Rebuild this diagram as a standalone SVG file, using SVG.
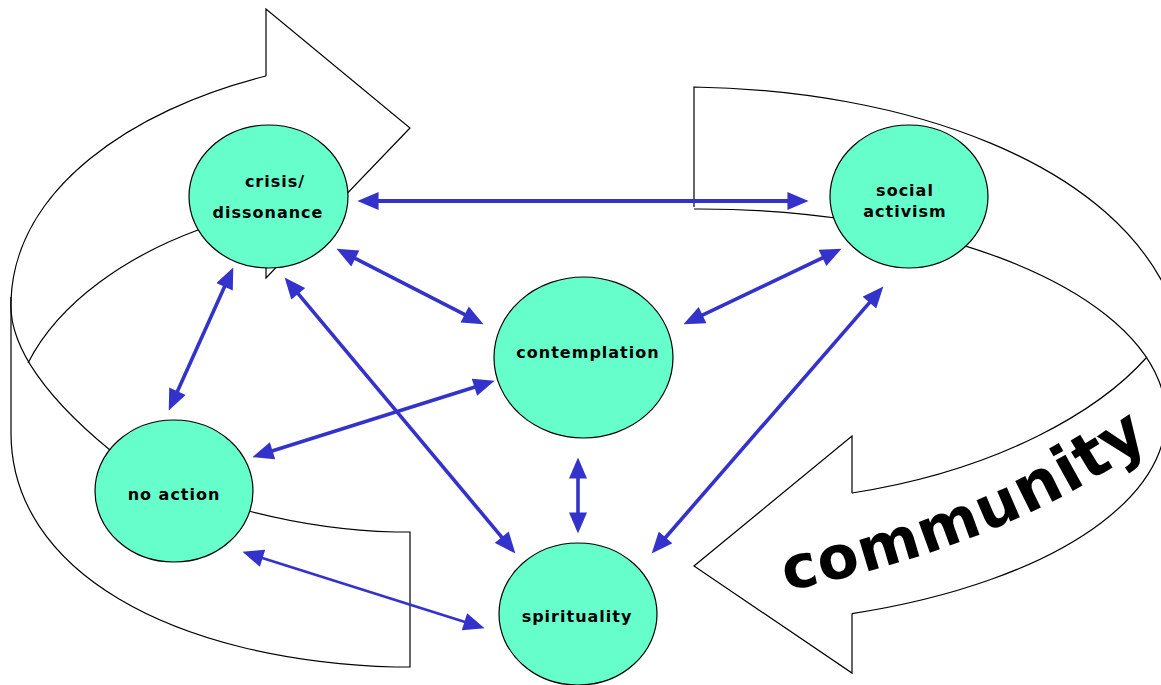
<svg xmlns="http://www.w3.org/2000/svg" width="1161" height="685" viewBox="0 0 1161 685">
  <style>
    .band { fill: none; stroke: #000; stroke-width: 1.2; stroke-linejoin: miter; }
    .node { fill: #66FFCC; stroke: #000; stroke-width: 1.2; }
    .label { font-family: "DejaVu Sans", Verdana, sans-serif; font-weight: bold; font-size: 16px; letter-spacing: 1px; fill: #000; text-anchor: middle; }
    .link { stroke: #3333CC; stroke-width: 3.6; fill: none; marker-start: url(#head); marker-end: url(#head); }
    .thick { stroke-width: 4.2; }
    .thin { stroke-width: 2.6; }
    .word { font-family: "DejaVu Sans", Verdana, sans-serif; font-weight: bold; font-size: 60px; letter-spacing: 1.5px; fill: #000; }
    .word .big { font-size: 64px; }
  </style>
  <defs>
    <marker id="head" markerUnits="userSpaceOnUse" markerWidth="22" markerHeight="18" viewBox="0 0 20 17" refX="10" refY="8.5" orient="auto-start-reverse">
      <path d="M0,0 L20,8.5 L0,17 Z" fill="#3333CC"/>
    </marker>
    <path id="wordPath" d="M786,591 Q1030,540 1172,425"/>
  </defs>

  <!-- left ribbon arrow pointing right -->
  <g id="left-arrow">
    <path class="band" fill="#fff" d="M266,76 L266,9 L410,128 L266,278 L266,262"/>
    <path class="band" d="M266,76 C130,110 15,190 11,300 C8,345 45,400 125,462"/>
    <path class="band" d="M198,230 C130,255 60,300 28,363"/>
    <path class="band" d="M11,297 L11,433 C11,570 170,660 395,667 L410,667 L410,532 L395,532 Q320,530 245,510"/>
  </g>

  <!-- right ribbon arrow pointing left, labelled community -->
  <g id="right-arrow">
    <path class="band" d="M694,207 L694,87 C900,90 1120,160 1175,310"/>
    <path class="band" d="M694,209 A466,208 0 0 1 852,613.6"/>
    <path class="band" d="M1147,357 C1100,410 1000,470 852,493"/>
    <path class="band" d="M852,493 L852,436 L694,566 L852,673 L852,613.6"/>
    <text class="word"><textPath href="#wordPath">commu<tspan class="big">nity</tspan></textPath></text>
  </g>

  <!-- connectors -->
  <g id="connectors">
    <line class="link thick" x1="368" y1="201" x2="798" y2="201"/>
    <line class="link" x1="345.9" y1="253.6" x2="474.1" y2="319.4"/>
    <line class="link" x1="228.9" y1="277.1" x2="173.1" y2="400.9"/>
    <line class="link" x1="291.4" y1="285.7" x2="508.6" y2="545.3"/>
    <line class="link" x1="484.5" y1="384" x2="262.5" y2="454"/>
    <line class="link" x1="832" y1="253.3" x2="693" y2="319.7"/>
    <line class="link" x1="578" y1="468" x2="578" y2="523"/>
    <line class="link" x1="876.4" y1="294.6" x2="658.6" y2="545.5"/>
    <line class="link thin" x1="252.5" y1="555" x2="474.5" y2="625"/>
  </g>

  <g id="crisis">
    <ellipse class="node" cx="268.5" cy="196.5" rx="79.5" ry="71.5"/>
    <text class="label" x="275" y="187">crisis/</text>
    <text class="label" x="268" y="218">dissonance</text>
  </g>
  <g id="social-activism">
    <ellipse class="node" cx="909" cy="196.5" rx="79" ry="71.5"/>
    <text class="label" x="905" y="196">social</text>
    <text class="label" x="905" y="217">activism</text>
  </g>
  <g id="contemplation">
    <ellipse class="node" cx="583.5" cy="357.5" rx="89.5" ry="80.5"/>
    <text class="label" x="588" y="358">contemplation</text>
  </g>
  <g id="no-action">
    <ellipse class="node" cx="174" cy="491" rx="79" ry="71"/>
    <text class="label" x="174" y="500">no action</text>
  </g>
  <g id="spirituality">
    <ellipse class="node" cx="578" cy="614" rx="79" ry="71"/>
    <text class="label" x="577" y="622">spirituality</text>
  </g>
</svg>
